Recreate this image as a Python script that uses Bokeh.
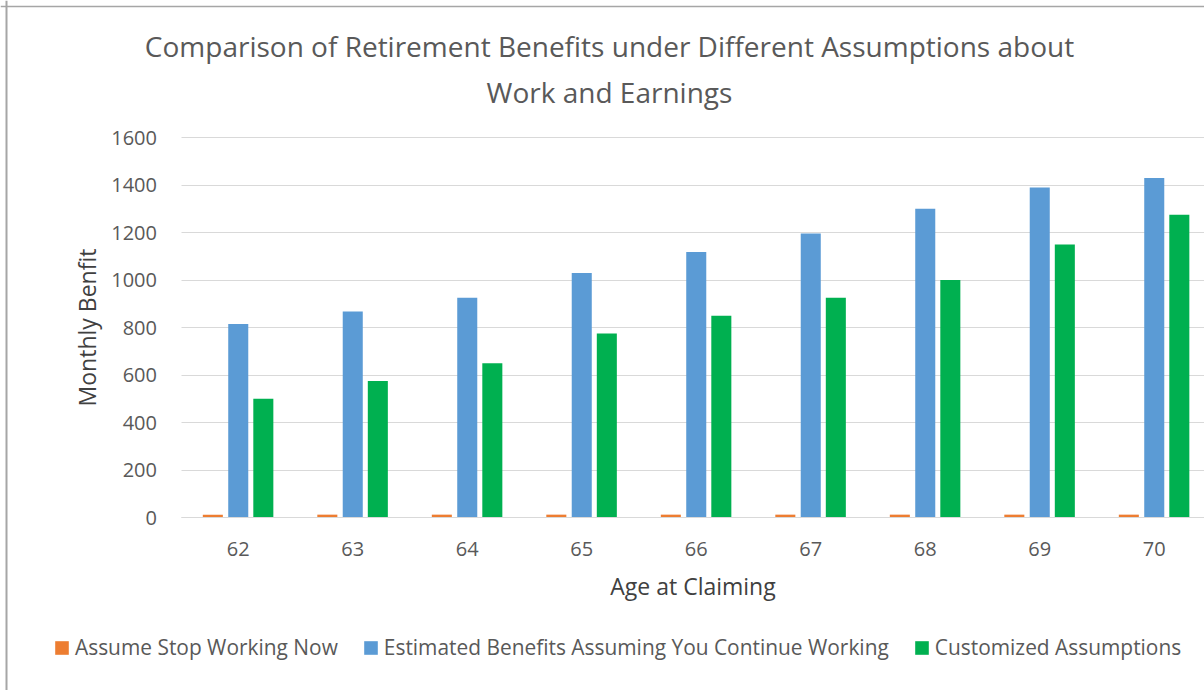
from bokeh.plotting import figure
from bokeh.models import ColumnDataSource, Range1d, Legend, LegendItem, FixedTicker, Label, Span
from bokeh.transform import dodge
from bokeh.embed import file_html
from bokeh.resources import INLINE

ages = [62, 63, 64, 65, 66, 67, 68, 69, 70]
stop_now = [12, 12, 12, 12, 12, 12, 12, 12, 12]
continue_working = [815, 867, 925, 1030, 1118, 1196, 1300, 1390, 1430]
customized = [500, 575, 650, 775, 850, 925, 1000, 1150, 1275]
y_ticks = [0, 200, 400, 600, 800, 1000, 1200, 1400, 1600]

series_names = ["Assume Stop Working Now",
                "Estimated Benefits Assuming You Continue Working",
                "Customized Assumptions"]
title_lines = ["Comparison of Retirement Benefits under Different Assumptions about",
               "Work and Earnings"]
colors = ["#ED7D31", "#5B9BD5", "#00B050"]

FONT = "Open Sans"
TXT = "#595959"

# canvas / plot-area geometry (pixels)
W, H = 1204, 690
AREA_L, AREA_T, AREA_B = 180.5, 137, 517
PX_PER_CAT = 114.5
Y_MIN, Y_MAX = 0, 1600
x0, x1 = ages[0] - 0.5, ages[0] - 0.5 + (W - AREA_L) / PX_PER_CAT
u_per_px = (Y_MAX - Y_MIN) / (AREA_B - AREA_T)

src = ColumnDataSource(dict(age=ages, stop=stop_now, cont=continue_working, cust=customized))

p = figure(width=W, height=H, output_backend="svg", toolbar_location=None, title=None,
           x_range=Range1d(x0 - AREA_L / PX_PER_CAT, x1),
           y_range=Range1d(Y_MIN - (H - AREA_B) * u_per_px, Y_MAX + AREA_T * u_per_px),
           min_border_left=0, min_border_right=0, min_border_top=0, min_border_bottom=0)
p.outline_line_color = None
p.background_fill_color = "white"
p.border_fill_color = "white"

bw = 0.175
r1 = p.vbar(x=dodge("age", -0.222), top="stop", width=bw, source=src, fill_color=colors[0], line_color=None)
r2 = p.vbar(x=dodge("age", 0.0), top="cont", width=bw, source=src, fill_color=colors[1], line_color=None)
r3 = p.vbar(x=dodge("age", 0.219), top="cust", width=bw, source=src, fill_color=colors[2], line_color=None)

# grids
p.xgrid.grid_line_color = None
p.ygrid.grid_line_color = "#d9d9d9"
p.ygrid.grid_line_width = 1
p.ygrid.ticker = FixedTicker(ticks=y_ticks)
try:
    p.ygrid.cross_bounds = (x0, x1)
except Exception:
    pass

# x axis, fixed at y = 0
p.xaxis.fixed_location = 0
p.xaxis.bounds = (x0, x1)
p.xaxis.ticker = FixedTicker(ticks=ages)
p.xaxis.axis_line_color = "#d9d9d9"
p.xaxis.major_tick_line_color = None
p.xaxis.minor_tick_line_color = None
p.xaxis.major_tick_out = 0
p.xaxis.major_label_standoff = 24
p.xaxis.major_label_text_font = FONT
p.xaxis.major_label_text_font_size = "20px"
p.xaxis.major_label_text_color = TXT
p.xaxis.axis_label = "Age at Claiming"
p.xaxis.axis_label_text_font = FONT
p.xaxis.axis_label_text_font_size = "23px"
p.xaxis.axis_label_text_font_style = "normal"
p.xaxis.axis_label_text_color = "#404040"
p.xaxis.axis_label_standoff = 11

# y axis, fixed at the left edge of the plot area
p.yaxis.fixed_location = x0
p.yaxis.bounds = (Y_MIN, Y_MAX)
p.yaxis.ticker = FixedTicker(ticks=y_ticks)
p.yaxis.axis_line_color = None
p.yaxis.major_tick_line_color = None
p.yaxis.minor_tick_line_color = None
p.yaxis.major_tick_out = 0
p.yaxis.major_label_standoff = 24
p.yaxis.major_label_text_font = FONT
p.yaxis.major_label_text_font_size = "20px"
p.yaxis.major_label_text_color = TXT
p.yaxis.axis_label = "Monthly Benfit"
p.yaxis.axis_label_text_font = FONT
p.yaxis.axis_label_text_font_size = "23px"
p.yaxis.axis_label_text_font_style = "normal"
p.yaxis.axis_label_text_color = "#404040"
p.yaxis.axis_label_standoff = 6

# two-line chart title
for txt, base in zip(title_lines, [45, 91]):
    p.add_layout(Label(x=609, y=H - base, x_units="screen", y_units="screen", text=txt,
                       text_align="center", text_baseline="alphabetic",
                       text_font=FONT, text_font_size="28px", text_color=TXT))

legend = Legend(items=[LegendItem(label=series_names[0], renderers=[r1]),
                       LegendItem(label=series_names[1], renderers=[r2]),
                       LegendItem(label=series_names[2], renderers=[r3])],
                orientation="horizontal", location=(53, 29),
                glyph_width=17, glyph_height=17, label_standoff=5, spacing=24,
                padding=0, margin=0, border_line_color=None, background_fill_alpha=0,
                label_text_font=FONT, label_text_font_size="20.9px", label_text_color=TXT,
                label_height=20)
p.add_layout(legend, "center")

# chart-area border (left and top edges visible in the reference)
p.add_layout(Span(location=6, location_units="screen", dimension="height",
                  line_color="#a6a6a6", line_width=2))
p.add_layout(Span(location=H - 6, location_units="screen", dimension="width",
                  line_color="#a6a6a6", line_width=1.5))

open("out.html", "w").write(file_html(p, INLINE))
